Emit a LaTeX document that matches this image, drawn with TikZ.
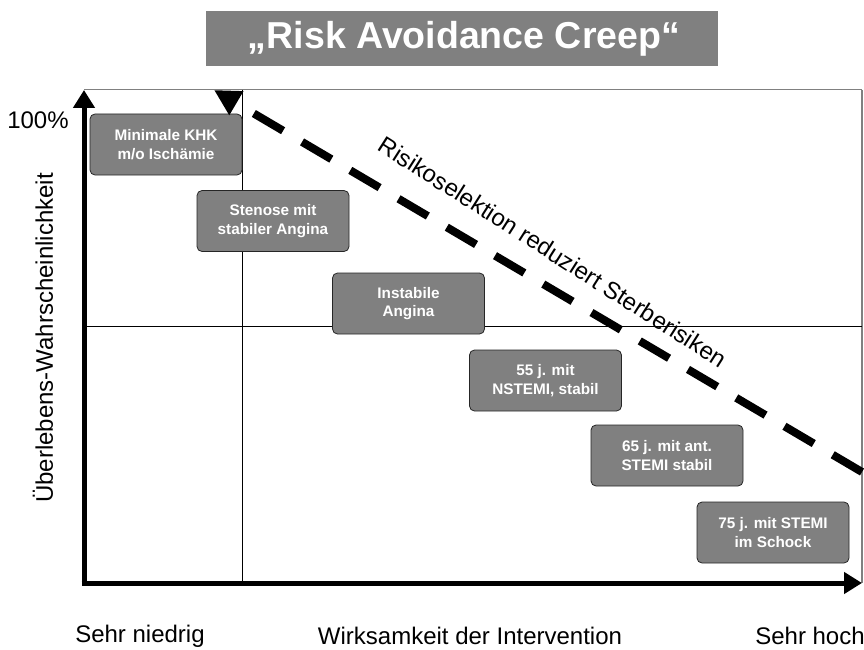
\documentclass[tikz,border=0pt]{standalone}
\usepackage{fontspec}
\setmainfont{Liberation Sans}
\usetikzlibrary{positioning, arrows.meta}
\definecolor{boxgray}{RGB}{128,128,128}

\begin{document}
\begin{tikzpicture}[x=1pt,y=-1pt,
box/.style={rectangle, rounded corners=5pt, fill=boxgray, draw=black!85,
  line width=0.8pt, minimum width=152pt, minimum height=61pt, align=center,
  text=white, font=\fontsize{15.3}{18.5}\selectfont\bfseries},
lbl/.style={font=\fontsize{24}{28}\selectfont},
axis/.style={line width=5pt, -{Triangle[length=18pt,width=21pt]}}]
\useasboundingbox (0,0) rectangle (864,650);

% title
\fill[boxgray] (206,11) rectangle (718,66);
\node[text=white, font=\fontsize{37.5}{40}\selectfont\bfseries] (title) at (464,39) {„Risk Avoidance Creep“};

% frame and quadrant lines
\coordinate (origin) at (84,583);
\coordinate (ytop) at (84,90);
\coordinate (xend) at (862,583);
\coordinate (corner) at (862,90);
\draw[boxgray, line width=1pt] (ytop) -- (corner);
\draw[boxgray, line width=2pt] (corner) -- (xend);
\draw[line width=0.7pt] (242,90) -- (242,583);
\draw[line width=0.7pt] (84,326) -- (862,326);

% axes
\draw[axis] (84,585.5) -- (ytop);
\draw[axis] (81.5,583) -- (xend);

% boxes
\node[box] (khk) at (166,144.5) {Minimale KHK\\m/o Ischämie};
\node[box] (stenose) at (273,221) {Stenose mit\\stabiler Angina};
\node[box] (instabil) at (408.5,303.5) {Instabile\\Angina};
\node[box] (nstemi) at (545.5,380.5) {55 j. mit\\NSTEMI, stabil};
\node[box] (stemi) at (667,455.5) {65 j. mit ant.\\STEMI stabil};
\node[box] (schock) at (773,532.5) {75 j. mit STEMI\\im Schock};

% risk selection
\coordinate (dstart) at (862,472);
\coordinate (dend) at (214,90);
\draw[line width=8pt, dash pattern=on 34pt off 22pt, -{Triangle[length=26pt,width=26pt]}] (dstart) -- (dend);
\node[lbl, rotate=-32.5] (risiko) at (553,252) {Risikoselektion reduziert Sterberisiken};

% axis labels
\node[lbl] (hundert) at (38,120) {100\%};
\node[lbl, rotate=90] (ylabel) at (43,338) {Überlebens-Wahrscheinlichkeit};
\node[lbl] (niedrig) at (140,636) {Sehr niedrig};
\node[lbl] (xlabel) at (470,636) {Wirksamkeit der Intervention};
\node[lbl] (hoch) at (810,636) {Sehr hoch};
\end{tikzpicture}
\end{document}
